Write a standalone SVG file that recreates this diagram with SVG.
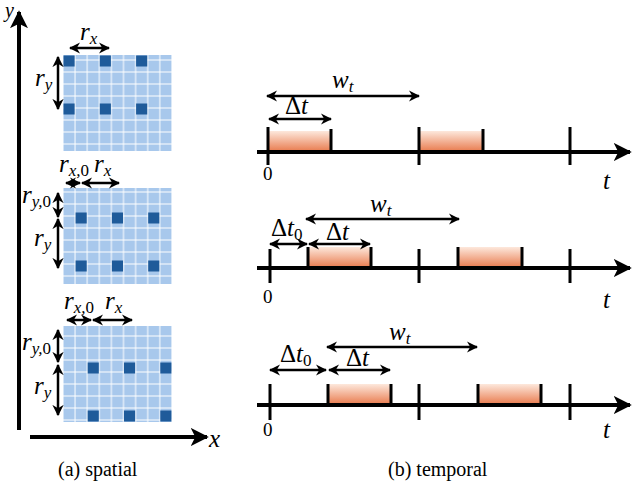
<svg xmlns="http://www.w3.org/2000/svg" width="634" height="486" viewBox="0 0 634 486" font-family="Liberation Serif, serif">
<defs>
<marker id="ah" viewBox="0 0 10 10" refX="9" refY="5" markerWidth="4.5" markerHeight="4.5" orient="auto-start-reverse"><path d="M0,0 L10,5 L0,10 L3,5 z" fill="#000"/></marker>
<marker id="big" viewBox="0 0 10 10" refX="9" refY="5" markerWidth="4.5" markerHeight="4.5" orient="auto-start-reverse"><path d="M0,0 L10,5 L0,10 L2.5,5 z" fill="#000"/></marker>
<linearGradient id="og" x1="0" y1="0" x2="0" y2="1"><stop offset="0" stop-color="#fde8dc"/><stop offset="1" stop-color="#e8784a"/></linearGradient>
<pattern id="cells" x="63" y="0" width="12.1" height="12" patternUnits="userSpaceOnUse"><rect width="12.1" height="12" fill="#fff"/><rect x="0.5" y="0.5" width="11.1" height="11" fill="#a8c8ec"/></pattern>
</defs>
<style>
.m{font-style:italic;font-size:25px}
.s{font-size:17px}
.u{font-style:normal}
.n{font-size:19px}
.cap{font-size:20px}
.a{stroke:#000;stroke-width:2.5;fill:none;marker-start:url(#ah);marker-end:url(#ah)}
.ax{stroke:#000;stroke-width:4;fill:none}
.tk{stroke:#000;stroke-width:3}
.d{fill:#1f5b9a}
</style>
<g id="axes">
<line class="ax" x1="19" y1="430" x2="19" y2="12" marker-end="url(#big)"/>
<line class="ax" x1="30" y1="437" x2="207" y2="437" marker-end="url(#big)"/>
<text class="m" x="5" y="17" style="font-size:20px">y</text>
<text class="m" x="209" y="447">x</text>
</g>
<g id="grid1">
<rect x="63" y="55" width="108.9" height="96" style="fill:url(#cells)"/>
<g class="d"><rect x="63.5" y="55.5" width="11.1" height="11"/><rect x="99.8" y="55.5" width="11.1" height="11"/><rect x="136.1" y="55.5" width="11.1" height="11"/><rect x="63.5" y="103.5" width="11.1" height="11"/><rect x="99.8" y="103.5" width="11.1" height="11"/><rect x="136.1" y="103.5" width="11.1" height="11"/></g>
<line class="a" x1="70" y1="48" x2="109" y2="48"/>
<line class="a" x1="58" y1="57" x2="58" y2="109"/>
<text class="m" x="80" y="40">r<tspan class="s" dy="4">x</tspan></text>
<text class="m" x="35" y="86">r<tspan class="s" dy="4">y</tspan></text>
</g>
<g id="grid2">
<rect x="63" y="188" width="108.9" height="96" style="fill:url(#cells)"/>
<g class="d"><rect x="75.6" y="212.5" width="11.1" height="11"/><rect x="111.9" y="212.5" width="11.1" height="11"/><rect x="148.2" y="212.5" width="11.1" height="11"/><rect x="75.6" y="260.5" width="11.1" height="11"/><rect x="111.9" y="260.5" width="11.1" height="11"/><rect x="148.2" y="260.5" width="11.1" height="11"/></g>
<line class="a" x1="66" y1="183" x2="80" y2="183"/>
<line class="a" x1="82" y1="183" x2="119" y2="183"/>
<line class="a" x1="58" y1="193" x2="58" y2="217"/>
<line class="a" x1="58" y1="219" x2="58" y2="268"/>
<text class="m" x="59" y="172">r<tspan class="s" dy="4">x,<tspan class="u">0</tspan></tspan></text>
<text class="m" x="94" y="172">r<tspan class="s" dy="4">x</tspan></text>
<text class="m" x="22" y="203">r<tspan class="s" dy="4">y,<tspan class="u">0</tspan></tspan></text>
<text class="m" x="34" y="246">r<tspan class="s" dy="4">y</tspan></text>
</g>
<g id="grid3">
<rect x="63" y="326" width="108.9" height="96" style="fill:url(#cells)"/>
<g class="d"><rect x="87.7" y="362.5" width="11.1" height="11"/><rect x="124" y="362.5" width="11.1" height="11"/><rect x="160.3" y="362.5" width="11.1" height="11"/><rect x="87.7" y="410.5" width="11.1" height="11"/><rect x="124" y="410.5" width="11.1" height="11"/><rect x="160.3" y="410.5" width="11.1" height="11"/></g>
<line class="a" x1="67" y1="320" x2="91" y2="320"/>
<line class="a" x1="93" y1="320" x2="132" y2="320"/>
<line class="a" x1="58" y1="330" x2="58" y2="362"/>
<line class="a" x1="58" y1="365" x2="58" y2="415"/>
<text class="m" x="64" y="309">r<tspan class="s" dy="4">x,<tspan class="u">0</tspan></tspan></text>
<text class="m" x="105" y="309">r<tspan class="s" dy="4">x</tspan></text>
<text class="m" x="22" y="350">r<tspan class="s" dy="4">y,<tspan class="u">0</tspan></tspan></text>
<text class="m" x="34" y="394">r<tspan class="s" dy="4">y</tspan></text>
</g>
<g id="row1">
<rect x="269" y="131" width="62" height="21" fill="url(#og)"/>
<rect x="420" y="131" width="63" height="21" fill="url(#og)"/>
<line class="ax" x1="257" y1="152" x2="630" y2="152" marker-end="url(#big)"/>
<line class="tk" x1="268" y1="127" x2="268" y2="165"/><line class="tk" x1="331" y1="129" x2="331" y2="152"/>
<line class="tk" x1="419" y1="127" x2="419" y2="165"/><line class="tk" x1="483" y1="129" x2="483" y2="152"/>
<line class="tk" x1="570" y1="127" x2="570" y2="165"/>
<line class="a" x1="267" y1="96" x2="419" y2="96"/>
<line class="a" x1="269" y1="119" x2="331" y2="119"/>
<text class="m" x="332" y="88">w<tspan class="s" dy="4">t</tspan></text>
<text class="m" x="285" y="114"><tspan class="u">Δ</tspan>t</text>
<text class="n" x="263" y="180">0</text>
<text class="m" x="603" y="189">t</text>
</g>
<g id="row2">
<rect x="309" y="247" width="62" height="21" fill="url(#og)"/>
<rect x="459" y="247" width="63" height="21" fill="url(#og)"/>
<line class="ax" x1="257" y1="268" x2="630" y2="268" marker-end="url(#big)"/>
<line class="tk" x1="270" y1="249" x2="270" y2="283"/><line class="tk" x1="308" y1="247" x2="308" y2="268"/><line class="tk" x1="371" y1="247" x2="371" y2="268"/>
<line class="tk" x1="419" y1="249" x2="419" y2="283"/><line class="tk" x1="458" y1="247" x2="458" y2="268"/><line class="tk" x1="522" y1="247" x2="522" y2="268"/>
<line class="tk" x1="570" y1="249" x2="570" y2="283"/>
<line class="a" x1="306" y1="219" x2="459" y2="219"/>
<line class="a" x1="270" y1="244" x2="307" y2="244"/>
<line class="a" x1="309" y1="244" x2="370" y2="244"/>
<text class="m" x="370" y="212">w<tspan class="s" dy="4">t</tspan></text>
<text class="m" x="271" y="236"><tspan class="u">Δ</tspan>t<tspan class="s u" dy="4">0</tspan></text>
<text class="m" x="326" y="240"><tspan class="u">Δ</tspan>t</text>
<text class="n" x="263" y="303">0</text>
<text class="m" x="603" y="308">t</text>
</g>
<g id="row3">
<rect x="329" y="384" width="62" height="21" fill="url(#og)"/>
<rect x="479" y="384" width="62" height="21" fill="url(#og)"/>
<line class="ax" x1="257" y1="405" x2="630" y2="405" marker-end="url(#big)"/>
<line class="tk" x1="270" y1="384" x2="270" y2="420"/><line class="tk" x1="328" y1="384" x2="328" y2="405"/><line class="tk" x1="391" y1="384" x2="391" y2="405"/>
<line class="tk" x1="419" y1="384" x2="419" y2="420"/><line class="tk" x1="478" y1="384" x2="478" y2="405"/><line class="tk" x1="541" y1="384" x2="541" y2="405"/>
<line class="tk" x1="570" y1="384" x2="570" y2="420"/>
<line class="a" x1="327" y1="347" x2="477" y2="347"/>
<line class="a" x1="270" y1="370" x2="326" y2="370"/>
<line class="a" x1="329" y1="370" x2="390" y2="370"/>
<text class="m" x="389" y="340">w<tspan class="s" dy="4">t</tspan></text>
<text class="m" x="280" y="362"><tspan class="u">Δ</tspan>t<tspan class="s u" dy="4">0</tspan></text>
<text class="m" x="346" y="366"><tspan class="u">Δ</tspan>t</text>
<text class="n" x="263" y="436">0</text>
<text class="m" x="603" y="438">t</text>
</g>
<text class="cap" x="58" y="476">(a) spatial</text>
<text class="cap" x="388" y="476">(b) temporal</text>
</svg>
